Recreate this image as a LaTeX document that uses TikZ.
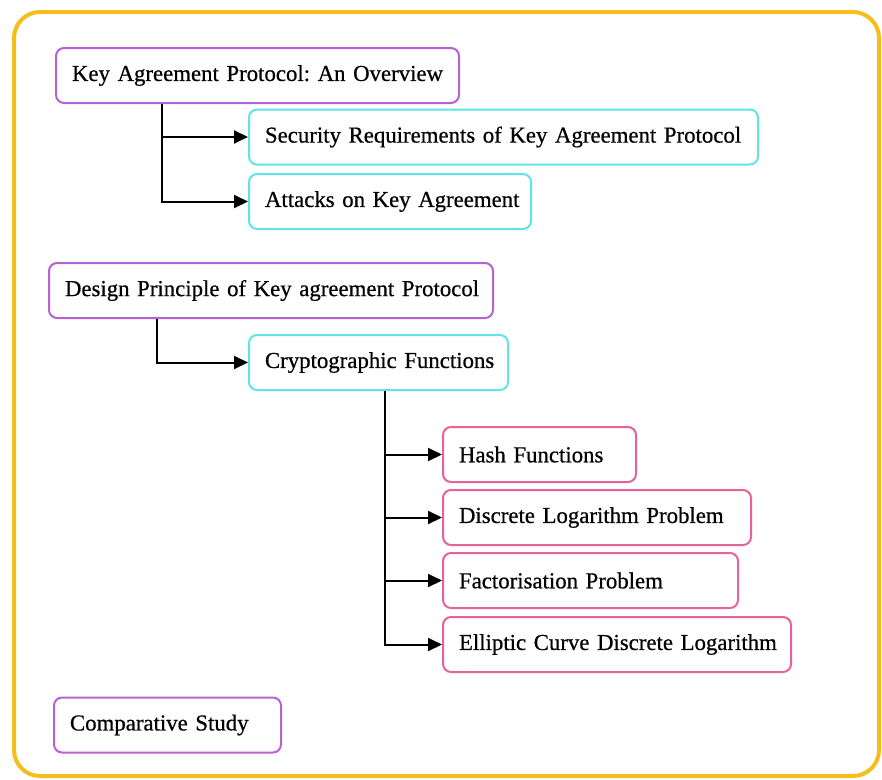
\documentclass[tikz,border=0pt]{standalone}
\usepackage{fontspec}
\setmainfont{Liberation Serif}
\newfontfamily\boxfont[FakeBold=0.6]{Liberation Serif}
\usetikzlibrary{arrows.meta}
\definecolor{frameyellow}{RGB}{244,190,28}
\definecolor{topicpurple}{RGB}{181,98,214}
\definecolor{subcyan}{RGB}{96,228,230}
\definecolor{leafpink}{RGB}{232,98,152}
\tikzset{
  box/.style={draw, rounded corners=8pt, line width=2pt, anchor=west,
    minimum height=55pt, inner xsep=16pt, align=left,
    font=\boxfont\fontsize{22.8}{26}\selectfont\frenchspacing},
  topic/.style={box, draw=topicpurple},
  sub/.style={box, draw=subcyan},
  leaf/.style={box, draw=leafpink},
  conn/.style={line width=2pt, -{Triangle[length=14pt,width=13pt]}}
}
\begin{document}
\begin{tikzpicture}[x=1pt,y=-1pt]
  \useasboundingbox (0,0) rectangle (882,779);
  \draw[frameyellow, line width=4pt, rounded corners=26pt] (14,12) rectangle (879,776);

  % overview
  \node[topic, text width=371pt] (ovw)     at (55,75.5)   {\mbox{Key Agreement Protocol: An Overview}};
  \node[sub,   text width=477pt] (secreq)  at (248,137)   {\mbox{Security Requirements of Key Agreement Protocol}};
  \node[sub,   text width=250pt] (attacks) at (248,201.5) {\mbox{Attacks on Key Agreement}};

  % design
  \node[topic, text width=412pt] (design)  at (48,290.5)  {\mbox{Design Principle of Key agreement Protocol}};
  \node[sub,   text width=227pt] (crypto)  at (248,362.5) {\mbox{Cryptographic Functions}};
  \node[leaf,  text width=161pt] (hash)    at (442,454.5) {\mbox{Hash Functions}};
  \node[leaf,  text width=276pt] (dlp)     at (442,517.5) {\mbox{Discrete Logarithm Problem}};
  \node[leaf,  text width=263pt] (fact)    at (442,580.5) {\mbox{Factorisation Problem}};
  \node[leaf,  text width=316pt] (ecdl)    at (442,644.5) {\mbox{Elliptic Curve Discrete Logarithm}};

  \node[topic, text width=195pt] (comp)    at (53,725)    {\mbox{Comparative Study}};

  \draw[conn] ([xshift=107pt]ovw.south west) |- (secreq.west);
  \draw[conn] ([xshift=107pt]ovw.south west) |- (attacks.west);
  \draw[conn] ([xshift=109pt]design.south west) |- (crypto.west);
  \foreach \n in {hash,dlp,fact,ecdl}
    \draw[conn] ([xshift=137pt]crypto.south west) |- (\n.west);
\end{tikzpicture}
\end{document}
